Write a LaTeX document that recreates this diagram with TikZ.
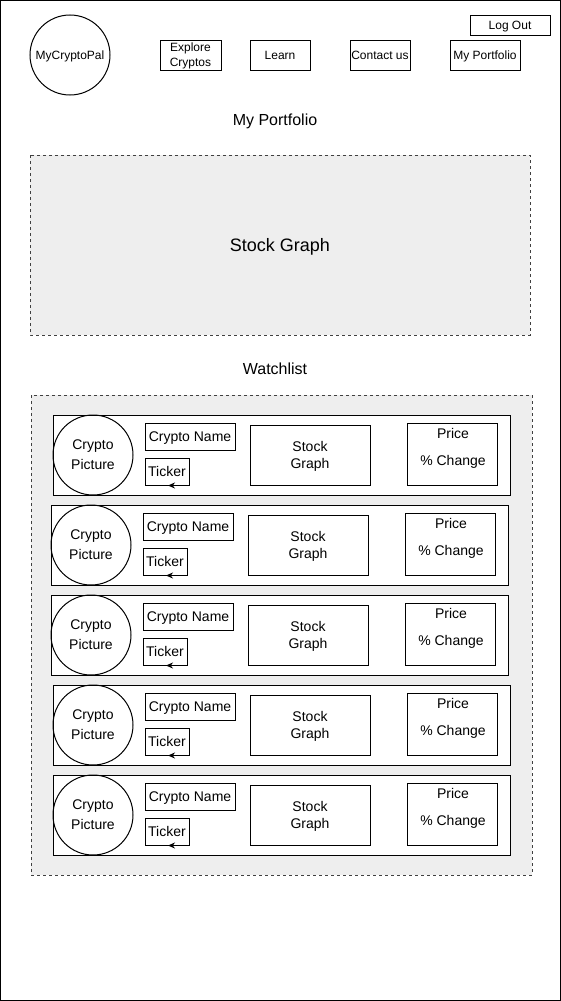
\documentclass[tikz,border=0pt]{standalone}
\usepackage{fontspec}
\setmainfont{Liberation Sans}
\usetikzlibrary{arrows.meta}
\definecolor{panelgray}{HTML}{EEEEEE}

\begin{document}
\begin{tikzpicture}[x=1pt,y=-1pt,line width=1pt,
    navbox/.style={draw, inner sep=0pt, minimum height=30pt, align=center, text height=10.86pt, text depth=2.54pt, font=\fontsize{12}{14.4}\selectfont},
    panel/.style={draw=black!75, dash pattern=on 3pt off 3pt, fill=panelgray},
    heading/.style={text height=14.48pt, text depth=3.39pt, font=\fontsize{16}{19}\selectfont},
    cell/.style={draw, inner sep=0pt, align=center, text height=12.67pt, text depth=2.97pt, font=\fontsize{14}{16.8}\selectfont},
    tickarrow/.style={-{Stealth[length=7pt,width=6pt]}}]
    \useasboundingbox (0,0) rectangle (561,1001);
    \draw (0.5,0.5) rectangle (560.5,1000.5);
    % header
    \node[circle, navbox, minimum size=80pt] (logo) at (70,55) {MyCryptoPal};
    \node[navbox, minimum width=61pt, text height=25.26pt] (explore) at (190.5,55) {Explore\\Cryptos};
    \node[navbox, minimum width=60pt] (learn) at (280,55) {Learn};
    \node[navbox, minimum width=60pt] (contact) at (380,55) {Contact us};
    \node[navbox, minimum width=70pt] (portfolio) at (485,55) {My Portfolio};
    \node[navbox, minimum width=80pt, minimum height=20pt] (logout) at (510,25) {Log Out};
    \node[heading] (title) at (275,120) {My Portfolio};
    % portfolio graph
    \draw[panel] (30,155) rectangle (530,335);
    \node[text height=16.29pt, text depth=3.82pt, font=\fontsize{18}{22}\selectfont] (graph) at (280,245) {Stock Graph};
    % watchlist
    \node[heading] (watch) at (275,369) {Watchlist};
    \draw[panel] (31,395) rectangle (532,875);
    \foreach \i/\dx/\ty in {1/0/415, 2/-2/505, 3/-2/595, 4/0/685, 5/0/775}{
        \begin{scope}[shift={(\dx,\ty)}]
            \node[cell, fill=white, minimum width=457pt, minimum height=80pt] (row\i) at (281.5,40) {};
            \node[cell, circle, minimum size=80pt, text height=32.67pt, font=\fontsize{14}{20}\selectfont] (pic\i) at (93,40) {Crypto\\Picture};
            \node[cell, minimum width=90pt, minimum height=27pt] (name\i) at (190,21.5) {Crypto Name};
            \node[cell, minimum width=44pt, minimum height=27pt] (tick\i) at (167,56.5) {Ticker};
            \node[cell, minimum width=120pt, minimum height=60pt, text height=29.47pt] (chart\i) at (310,40) {Stock\\Graph};
            \node[cell, minimum width=90pt, minimum height=62pt] (price\i) at (452,39) {};
            \node[cell, draw=none, text height=39.67pt, font=\fontsize{14}{27}\selectfont] (change\i) at ([xshift=1pt,yshift=6.6pt]price\i.center) {Price\\\% Change};
            \draw[tickarrow] ([xshift=9pt]tick\i.south) -- ([xshift=1pt]tick\i.south);
        \end{scope}
    }
\end{tikzpicture}
\end{document}
